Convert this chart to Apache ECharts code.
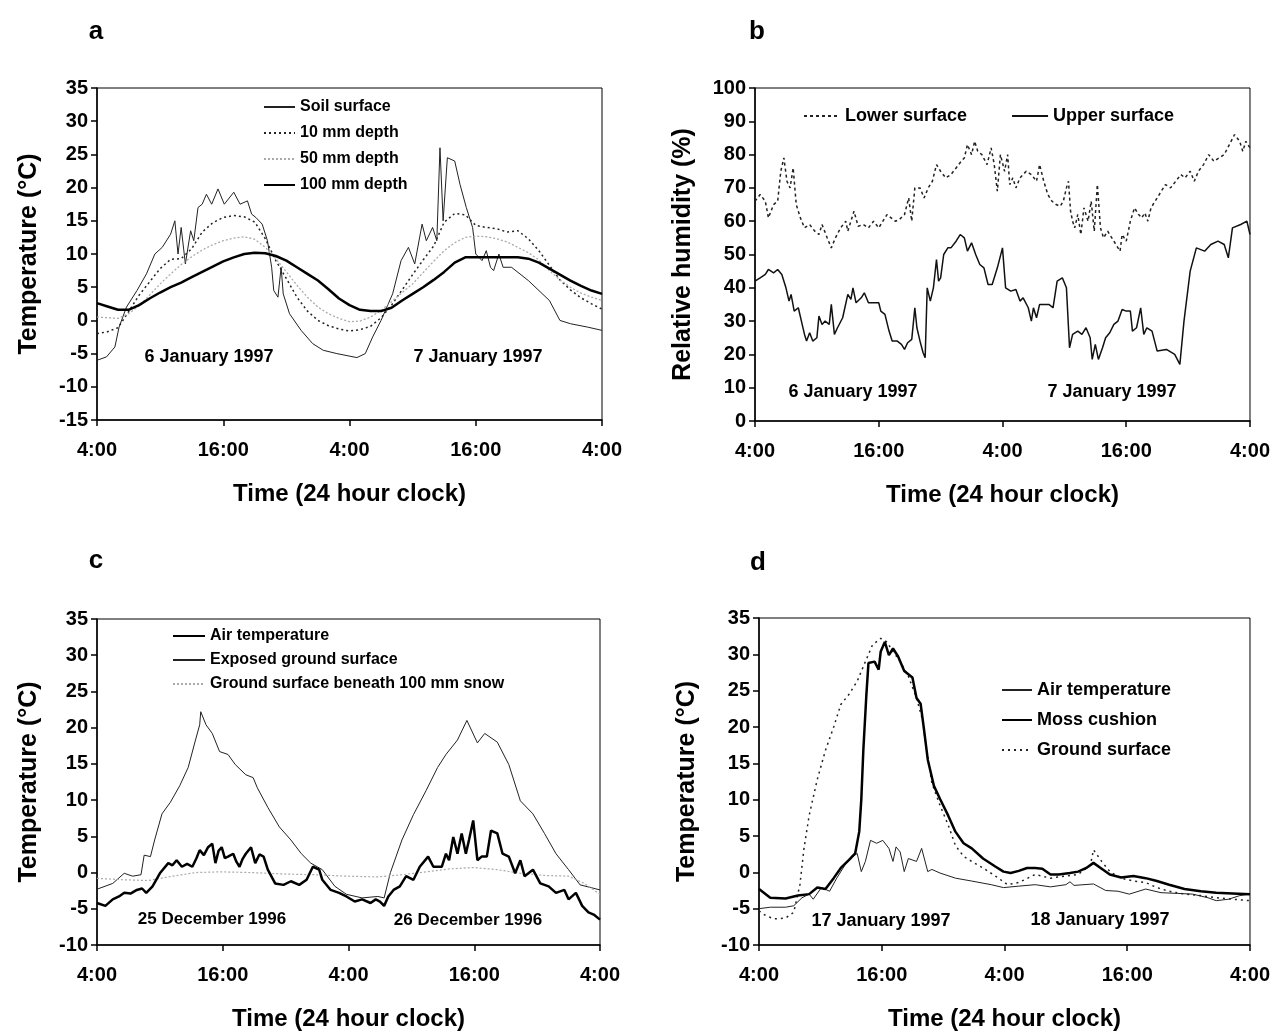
<!DOCTYPE html>
<html><head><meta charset="utf-8">
<script src="https://cdn.jsdelivr.net/npm/echarts@6/dist/echarts.min.js"></script>
<style>html,body{margin:0;padding:0;background:#fff}#c{width:1273px;height:1032px}</style>
</head><body><div id="c"></div>
<script>
// ---------- tick labels / texts ----------
const timeTickLabels = ['4:00', '16:00', '4:00', '16:00', '4:00'];
const panelLetters = ['a', 'b', 'c', 'd'];
const dateLabelsA = ['6 January 1997', '7 January 1997'];
const dateLabelsB = ['6 January 1997', '7 January 1997'];
const dateLabelsC = ['25 December 1996', '26 December 1996'];
const dateLabelsD = ['17 January 1997', '18 January 1997'];
const xAxisName = 'Time (24 hour clock)';

// ---------- panel a (hours since 4:00, temperature °C) ----------
const aSoilSurface = [[0,-6],[0.9,-5.5],[1.7,-4],[2.1,-1],[2.8,2],[3.8,4.5],[4.7,7],[5.5,10],[6.2,11],[7,13],[7.4,15],[7.7,10],[8,14],[8.4,8.5],[8.9,13.5],[9.2,12],[9.6,17],[10,17.5],[10.4,19],[10.9,17.5],[11.5,19.8],[12.1,17.5],[13,19.3],[13.6,17.5],[14.3,18],[14.7,16],[15.1,15.5],[15.7,14.5],[16.2,12],[16.6,8],[16.8,4.5],[17.2,3.5],[17.5,8],[17.7,4],[18.3,1],[19.4,-1.5],[20.5,-3.5],[21.5,-4.5],[22.8,-5],[24.7,-5.6],[25.5,-5],[26.2,-2.5],[27,0],[28.1,4],[28.9,9],[29.6,11],[30.2,8.5],[30.9,14.5],[31.3,12],[31.9,14],[32.3,12],[32.6,26],[32.9,15],[33.3,24.5],[34,24],[34.5,20.5],[35.1,17],[35.7,14],[36,10],[36.6,9],[37,10.5],[37.4,8],[37.7,7.5],[38.2,10],[38.6,8],[39.4,8],[41,6],[43,3],[44,0],[45,-0.5],[46.6,-1],[48,-1.5]];
const a10mm = [-2.0,-1.7,-1.1,1.3,3.8,5.8,7.8,9.2,9.3,10.8,13.3,14.7,15.5,15.8,15.6,14.8,12.3,9.0,6.3,3.5,1.4,0.0,-0.8,-1.3,-1.6,-1.4,-0.9,0.4,2.3,4.6,6.9,9.1,11.2,14.8,16.1,15.9,14.3,14.0,13.8,13.3,13.5,12.3,10.5,8.3,6.1,4.6,3.4,2.5,1.7];
const a50mm = [0.5,0.4,0.3,1.0,2.2,3.8,5.5,7.0,8.4,9.6,10.6,11.4,12.0,12.4,12.6,12.2,11.0,9.3,7.3,5.3,3.5,2.0,1.0,0.3,-0.2,-0.1,0.5,1.5,2.8,4.2,5.5,7.2,8.9,10.5,11.7,12.5,12.7,12.6,12.3,11.8,11.0,10.2,9.1,7.5,6.1,5.0,4.1,3.5,3.0];
const a100mm = [2.6,2.1,1.6,1.6,2.3,3.3,4.2,5.0,5.7,6.5,7.3,8.1,8.9,9.5,10.0,10.2,10.1,9.7,9.0,8.0,7.0,6.0,4.7,3.3,2.3,1.6,1.4,1.4,1.9,3.0,4.0,5.0,6.1,7.3,8.7,9.5,9.5,9.5,9.5,9.5,9.5,9.3,8.7,7.8,6.9,6.0,5.2,4.5,4.0];

// ---------- panel b (relative humidity %) ----------
const bLower = [[0,66],[0.5,68],[1,66],[1.3,61],[1.8,65],[2.2,66],[2.5,75],[2.8,79],[3.1,72],[3.4,70],[3.7,76],[4,65],[4.4,61],[4.8,58],[5.3,59],[5.8,57],[6.2,56],[6.5,59],[7,55],[7.4,52],[7.8,55],[8.3,58],[8.8,60],[9,57],[9.6,63],[10,58.5],[10.5,59],[11,58],[11.5,60],[12,58],[12.4,60],[12.8,62],[13.2,61],[13.6,60],[14,60.5],[14.5,62],[14.9,67],[15.2,60],[15.5,70],[16,70],[16.4,67],[16.8,70],[17.2,72],[17.6,77],[18,75],[18.5,73],[19,74],[19.5,76],[20,78],[20.3,79],[20.6,83],[21,80],[21.3,84],[21.6,81],[22,80],[22.5,77],[22.9,82],[23.2,77],[23.5,69],[23.8,80],[24.2,75],[24.5,80],[24.7,71],[25,73],[25.3,70],[25.7,73],[26,74],[26.3,75],[26.8,74],[27.3,72],[27.6,77],[28,72],[28.4,68],[28.8,66],[29.2,65],[29.6,64.5],[29.9,66],[30.2,70],[30.4,72],[30.6,63],[30.8,60],[31,58],[31.3,62],[31.6,56],[31.9,64],[32.3,60],[32.6,66],[32.9,57],[33.2,71],[33.5,58],[33.8,55],[34.2,57],[34.6,55],[35,53],[35.4,51],[35.6,56],[36,54],[36.4,60],[36.8,64],[37.2,62],[37.5,61],[37.8,62.5],[38.1,60],[38.4,64],[38.8,66],[39.2,68],[39.8,71],[40.3,70],[40.8,72],[41.3,74],[41.7,73],[42.2,75],[42.6,72],[43,75],[43.5,77],[44,80],[44.5,78],[45,79],[45.5,80],[46,83],[46.5,86],[47,84],[47.3,81],[47.6,84],[48,82]];
const bUpper = [[0,42],[0.5,43],[1,44],[1.3,45.5],[1.8,44.5],[2.2,45.5],[2.6,44],[3,40],[3.3,36],[3.5,38],[3.8,33],[4.2,34],[4.5,30],[4.8,26],[5,24],[5.3,26.5],[5.6,24],[6,25],[6.2,31.5],[6.5,29],[6.8,30],[7.2,29],[7.4,35],[7.7,26],[8,28],[8.5,31],[9,38],[9.3,36.5],[9.5,40],[9.8,35.5],[10.3,37],[10.6,38.5],[11,35.5],[11.5,35.5],[12,35.5],[12.2,33],[12.6,32],[13,27],[13.3,24],[13.8,24],[14.2,23],[14.5,21.5],[14.8,23.5],[15.2,24.5],[15.5,34],[15.7,28],[16,24],[16.3,20.5],[16.5,19],[16.7,40],[17,36],[17.3,40],[17.6,48.5],[17.8,42],[18,43],[18.3,50],[18.7,52],[19,52],[19.5,54],[19.9,56],[20.3,55],[20.6,51],[21,53.5],[21.4,50],[21.8,47],[22.2,46],[22.6,41],[23,41],[23.5,46],[24,52],[24.3,40],[24.8,39],[25.3,39.5],[25.7,36],[26,37],[26.5,34],[26.8,30],[27,34],[27.3,31],[27.6,35],[28,35],[28.5,35],[28.9,34],[29.3,42],[29.8,43],[30.2,40],[30.5,22],[30.8,26],[31.3,27],[31.7,26],[32.1,28],[32.5,25],[32.7,18.5],[33,23],[33.3,18.5],[33.7,22],[34,25],[34.4,26.5],[34.8,29],[35.2,30],[35.6,33.5],[36,33],[36.4,33],[36.6,27],[37,28],[37.4,34],[37.7,26],[38,28],[38.5,27],[39,21],[39.9,21.5],[40.7,20],[41.2,17],[41.6,30],[42.2,45],[42.8,52],[43.6,51],[44.2,53],[44.9,54],[45.5,53],[45.9,49],[46.3,58],[47.1,59],[47.7,60],[48,56]];

// ---------- panel c (temperature °C) ----------
const cAir = [[0,-4.2],[0.8,-4.6],[1.5,-3.7],[2.1,-3.3],[2.6,-2.8],[3.2,-2.9],[3.8,-2.4],[4.3,-2.2],[4.7,-2.8],[5.3,-1.9],[6,-0.1],[6.8,1.3],[7.2,1.0],[7.6,1.7],[8.1,0.8],[8.6,1.2],[9.1,0.8],[9.5,2.0],[9.8,3.1],[10.2,2.4],[10.6,3.5],[11,4],[11.3,1.3],[11.6,3.0],[11.9,3.5],[12.2,2.0],[12.5,2.2],[13,2.6],[13.3,1.5],[13.6,0.8],[13.9,1.9],[14.2,2.6],[14.7,3.5],[15.1,1.3],[15.5,2.5],[15.9,2.2],[16.3,0.4],[17,-1.5],[17.8,-1.7],[18.5,-1.2],[19.3,-1.7],[20,-1],[20.6,0.8],[21.2,0.4],[21.5,-1],[22.3,-2.4],[23.1,-2.8],[23.8,-3.3],[24.6,-4],[25.3,-3.7],[26.1,-4.2],[26.6,-3.7],[27,-4],[27.4,-4.6],[27.8,-3.3],[28.3,-2.4],[28.9,-1.9],[29.5,-0.5],[30.2,-1],[30.8,0.8],[31.6,2.2],[32.1,0.8],[32.9,0.8],[33.3,2.6],[33.6,1.7],[34,4.9],[34.4,2.6],[34.8,5.4],[35.2,2.6],[35.5,4.5],[35.9,7.2],[36.3,1.7],[36.7,2.2],[37.2,2.2],[37.6,5.8],[38.2,5.4],[38.7,2.6],[39.3,2.2],[39.9,-0.1],[40.4,1.7],[40.8,-0.5],[41.6,0.4],[42.3,-1.5],[43.1,-1.9],[43.8,-2.8],[44.6,-2.4],[45,-3.7],[45.7,-2.8],[46.3,-4.6],[46.9,-5.5],[47.4,-5.8],[48,-6.5]];
const cExposed = [[0,-2.3],[1.5,-1.5],[2.6,-0.1],[3.4,-0.5],[4.2,-0.3],[4.5,2.4],[5.1,2.2],[5.5,4.5],[6.2,8.1],[7,9.7],[7.9,12],[8.7,14.5],[9.4,18.3],[9.8,20.4],[9.9,22.2],[10.4,20.4],[11,19.2],[11.7,16.7],[12.5,16.3],[13.2,14.9],[14.2,13.5],[14.9,13.1],[15.3,11.7],[16.3,9],[17.4,6.3],[18.5,4.5],[19.5,2.6],[20.4,1.3],[21.5,0.4],[22.7,-1.9],[23.8,-3],[25.3,-3.5],[26.8,-3.3],[27.4,-3.5],[28,0],[29.1,4.5],[30.2,8],[31.4,11.3],[32.5,14.5],[33.3,16.3],[34.4,18.3],[35.3,21],[36.3,17.9],[37,19.2],[38.2,18],[39.3,14.9],[40.4,9.9],[41.6,8.1],[42.7,5.4],[43.8,2.6],[45,0.4],[46.1,-1.7],[47.2,-2.1],[48,-2.4]];
const cSnow = [[0,-0.8],[2.6,-1],[4.9,-1.1],[7.2,-0.5],[9.4,0],[11.7,0.1],[14.7,0],[17.8,-0.2],[20.8,-0.3],[23.8,-0.5],[26.8,-0.6],[29.1,-0.3],[31.4,0.1],[33.6,0.5],[35.9,0.7],[38.2,0.4],[40.4,-0.1],[42.7,-0.4],[45,-0.5],[46.5,-1.5],[48,-3]];

// ---------- panel d (temperature °C) ----------
const dAir = [[0,-5],[1.1,-4.8],[2.6,-4.8],[3.4,-4.6],[4.2,-3.5],[4.9,-3],[5.3,-3.7],[6.1,-2.1],[6.9,-2.6],[7.6,-0.8],[8.4,1],[9.2,2.2],[9.6,2.6],[10,0.1],[10.4,1.5],[10.9,4.4],[11.5,4],[12.1,4.4],[12.7,3.3],[13.1,1.5],[13.4,3.5],[13.8,2.8],[14.2,0.1],[14.6,1.9],[15.4,1.5],[15.9,3.3],[16.5,0.1],[16.9,0.4],[17.7,-0.1],[19.2,-0.8],[20.8,-1.2],[22.7,-1.7],[23.9,-2.1],[25.4,-1.9],[27,-1.7],[28.5,-2],[30,-1.7],[30.4,-1.3],[30.8,-1.8],[32.7,-1.6],[33.9,-2.5],[35.1,-2.6],[36.2,-3],[37.8,-2.3],[39.3,-2.8],[40.9,-2.9],[42.4,-3],[43.9,-3.5],[44.7,-3.9],[45.9,-3.7],[47,-3.2],[48,-3]];
const dMoss = [[0,-2.3],[1.1,-3.5],[2.6,-3.6],[3.8,-3.2],[4.9,-3],[5.7,-2.1],[6.5,-2.3],[7.3,-0.8],[8,0.6],[8.8,1.7],[9.4,2.6],[9.8,5.6],[10,10],[10.2,16.8],[10.5,24.5],[10.7,28.8],[11.3,29],[11.7,27.9],[11.9,30.4],[12.3,31.7],[12.7,29.9],[13.1,30.8],[13.6,29.7],[14.2,27.7],[15,26.8],[15.4,24],[15.8,23.2],[16.1,20],[16.5,15.5],[17.1,11.9],[17.7,10.1],[18.5,7.8],[19.2,5.6],[20,4],[20.8,3.3],[21.9,1.9],[23.1,0.8],[23.9,0.1],[24.6,-0.1],[25.4,0.2],[26.2,0.6],[27,0.6],[27.7,0.5],[28.5,-0.3],[29.3,-0.3],[30.4,-0.1],[31.2,0.1],[32,0.6],[32.7,1.3],[33.5,0.5],[34.3,-0.3],[35.4,-0.7],[36.6,-0.5],[37.8,-0.8],[38.9,-1.2],[40.1,-1.7],[41.6,-2.3],[43.2,-2.6],[44.7,-2.8],[46.3,-2.9],[48,-3]];
const dGround = [[0,-5.3],[0.7,-6],[1.5,-6.4],[2.6,-6.3],[3.4,-5.5],[4,-1.7],[4.4,3.3],[4.9,7.8],[5.7,12.8],[6.5,16.8],[7.3,20],[8,23.1],[8.8,24.5],[9.6,26.3],[10.4,29],[11.1,31.3],[11.9,32.2],[12.5,31.7],[13.1,30.4],[13.8,29],[14.6,27],[15.4,24],[16,20.9],[16.3,17.7],[16.9,12.3],[17.7,9.2],[18.5,6.5],[19.2,3.7],[20,2.2],[20.8,1.5],[21.9,0.6],[23.1,-0.5],[24.3,-1.7],[25.4,-1.4],[27,-0.3],[28.5,-0.8],[30,-0.5],[31.2,-0.3],[32.4,1],[32.7,3.1],[33.5,1.5],[34.3,0.1],[35.4,-0.8],[36.6,-1.2],[37.8,-1.4],[38.9,-2.1],[40.1,-2.6],[41.6,-3],[43.2,-3.2],[44.7,-3.5],[46.3,-3.7],[48,-3.9]];

// ---------- build ----------
const FONT = '"Liberation Sans", Arial, Helvetica, sans-serif';
const hourly = arr => arr.map((v, i) => [i, v]);

const grids = [
  {left: 97, top: 88, width: 505, height: 332},
  {left: 755, top: 88, width: 495, height: 333},
  {left: 97, top: 619, width: 503, height: 327},
  {left: 759, top: 618, width: 491, height: 330}
];
const yCfg = [
  {min: -15, max: 35, interval: 5, name: 'Temperature (°C)', gap: 55},
  {min: 0, max: 100, interval: 10, name: 'Relative humidity (%)', gap: 59},
  {min: -10, max: 35, interval: 5, name: 'Temperature (°C)', gap: 55},
  {min: -10, max: 35, interval: 5, name: 'Temperature (°C)', gap: 59}
];
const axisLine = {show: true, onZero: false, lineStyle: {color: '#000', width: 1.5}};
const axisTick = {show: true, inside: false, length: 6, lineStyle: {color: '#000', width: 1.5}};

const xAxes = grids.map((g, i) => ({
  gridIndex: i, type: 'value', min: 0, max: 48, interval: 12,
  axisLine, axisTick, splitLine: {show: false},
  axisLabel: {formatter: v => timeTickLabels[Math.round(v / 12)], fontSize: 20, fontWeight: 'bold', color: '#000', fontFamily: FONT, margin: 20},
  name: xAxisName, nameLocation: 'middle', nameGap: 62,
  nameTextStyle: {fontSize: 24, fontWeight: 'bold', color: '#000', fontFamily: FONT}
}));
const yAxes = yCfg.map((c, i) => ({
  gridIndex: i, type: 'value', min: c.min, max: c.max, interval: c.interval,
  axisLine, axisTick, splitLine: {show: false},
  axisLabel: {fontSize: 20, fontWeight: 'bold', color: '#000', fontFamily: FONT, margin: 9},
  name: c.name, nameLocation: 'middle', nameGap: c.gap, nameRotate: 90,
  nameTextStyle: {fontSize: 25, fontWeight: 'bold', color: '#000', fontFamily: FONT}
}));

function line(name, gi, data, style, z) {
  return {type: 'line', name, xAxisIndex: gi, yAxisIndex: gi, data, symbol: 'none', showSymbol: false,
          itemStyle: {color: style.color}, lineStyle: style, z: z || 2, animation: false, silent: true};
}
const series = [
  line('a|Soil surface', 0, aSoilSurface, {color: '#222', width: 1}),
  line('a|10 mm depth', 0, hourly(a10mm), {color: '#222', width: 1.5, type: [2, 3]}),
  line('a|50 mm depth', 0, hourly(a50mm), {color: '#aaa', width: 1.3, type: [2, 2]}),
  line('a|100 mm depth', 0, hourly(a100mm), {color: '#000', width: 2.5}, 3),
  line('b|Lower surface', 1, bLower, {color: '#222', width: 1.5, type: [3, 3]}),
  line('b|Upper surface', 1, bUpper, {color: '#111', width: 1.5}),
  line('c|Air temperature', 2, cAir, {color: '#000', width: 2.5}, 3),
  line('c|Exposed ground surface', 2, cExposed, {color: '#222', width: 1}),
  line('c|Ground surface beneath 100 mm snow', 2, cSnow, {color: '#aaa', width: 1.2, type: [2, 2]}),
  line('d|Air temperature', 3, dAir, {color: '#222', width: 1}),
  line('d|Moss cushion', 3, dMoss, {color: '#000', width: 2.5}, 3),
  line('d|Ground surface', 3, dGround, {color: '#222', width: 1.5, type: [2, 4]})
];

const legendText = (size) => ({fontSize: size, fontWeight: 'bold', color: '#000', fontFamily: FONT});
const fmt = n => n.split('|')[1];
const legends = [
  {orient: 'vertical', left: 263, top: 99, itemWidth: 31, itemHeight: 14, itemGap: 10, textStyle: legendText(16),
   data: ['a|Soil surface', 'a|10 mm depth', 'a|50 mm depth', 'a|100 mm depth']},
  {orient: 'horizontal', left: 803, top: 107, itemWidth: 36, itemHeight: 14, itemGap: 44, textStyle: legendText(18),
   data: ['b|Lower surface', 'b|Upper surface']},
  {orient: 'vertical', left: 172, top: 628, itemWidth: 32, itemHeight: 14, itemGap: 8, textStyle: legendText(16),
   data: ['c|Air temperature', 'c|Exposed ground surface', 'c|Ground surface beneath 100 mm snow']},
  {orient: 'vertical', left: 1001, top: 681, itemWidth: 30, itemHeight: 14, itemGap: 12, textStyle: legendText(18),
   data: ['d|Air temperature', 'd|Moss cushion', 'd|Ground surface']}
].map(l => Object.assign(l, {formatter: fmt, selectedMode: false, padding: 0, itemStyle: {opacity: 0, borderWidth: 0}}));

const txt = (t, x, y, size) => ({type: 'text', x, y, style: {text: t, font: 'bold ' + size + 'px ' + FONT, fill: '#000', textAlign: 'center', textVerticalAlign: 'middle'}, silent: true});
const graphics = [
  txt(panelLetters[0], 96, 32, 26), txt(panelLetters[1], 757, 32, 26),
  txt(panelLetters[2], 96, 561, 26), txt(panelLetters[3], 758, 563, 26),
  txt(dateLabelsA[0], 209, 357, 18), txt(dateLabelsA[1], 478, 357, 18),
  txt(dateLabelsB[0], 853, 392, 18), txt(dateLabelsB[1], 1112, 392, 18),
  txt(dateLabelsC[0], 212, 919, 17), txt(dateLabelsC[1], 468, 920, 17),
  txt(dateLabelsD[0], 881, 921, 18), txt(dateLabelsD[1], 1100, 920, 18)
];

const chart = echarts.init(document.getElementById('c'), null, {renderer: 'canvas'});
chart.setOption({
  animation: false,
  backgroundColor: '#fff',
  grid: grids.map(g => Object.assign({show: true, borderColor: '#000', borderWidth: 1, backgroundColor: 'transparent', containLabel: false}, g)),
  xAxis: xAxes, yAxis: yAxes, legend: legends, series, graphic: graphics
});
</script></body></html>
